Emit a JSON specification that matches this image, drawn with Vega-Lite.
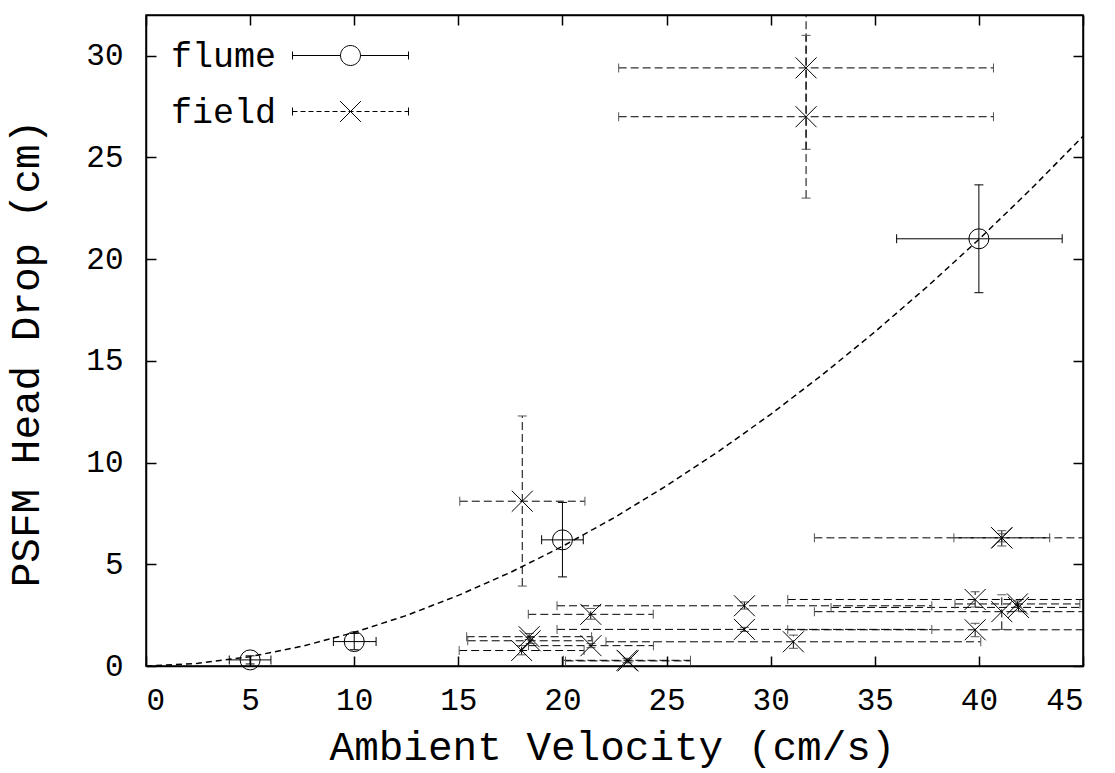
{
  "$schema": "https://vega.github.io/schema/vega-lite/v6.json",
  "width": 937,
  "height": 651,
  "autosize": {"type": "none"},
  "padding": {"left": 146, "top": 15, "right": 32, "bottom": 107},
  "background": "white",
  "config": {
    "font": "Liberation Mono",
    "view": {"stroke": "black", "strokeWidth": 1.5},
    "axis": {
      "grid": false,
      "domainColor": "black",
      "domainWidth": 1.5,
      "tickColor": "black",
      "tickWidth": 1.5,
      "tickSize": -10,
      "labelColor": "black",
      "titleColor": "black",
      "labelFont": "Liberation Mono",
      "titleFont": "Liberation Mono",
      "labelFontSize": 31,
      "titleFontSize": 41,
      "titleFontWeight": "normal",
      "labelFontWeight": "normal"
    }
  },
  "datasets": {
    "pts": [
      {"series": "flume", "v": 5.0, "h": 0.3, "vlo": 4.0, "vhi": 6.0, "hlo": 0.1, "hhi": 0.5},
      {"series": "flume", "v": 10.0, "h": 1.2, "vlo": 9.0, "vhi": 11.05, "hlo": 0.8, "hhi": 1.6},
      {"series": "flume", "v": 20.0, "h": 6.2, "vlo": 19.0, "vhi": 21.0, "hlo": 4.38, "hhi": 8.04},
      {"series": "flume", "v": 40.0, "h": 21.0, "vlo": 36.05, "vhi": 44.0, "hlo": 18.35, "hhi": 23.65},
      {"series": "field", "v": 31.7, "h": 29.4, "vlo": 22.7, "vhi": 40.7, "hlo": 25.4, "hhi": 33.4},
      {"series": "field", "v": 31.7, "h": 27.0, "vlo": 22.7, "vhi": 40.7, "hlo": 23.0, "hhi": 31.0},
      {"series": "field", "v": 18.07, "h": 8.1, "vlo": 15.07, "vhi": 21.08, "hlo": 3.93, "hhi": 12.29},
      {"series": "field", "v": 41.1, "h": 6.3, "vlo": 32.1, "vhi": 50.1, "hlo": 5.9, "hhi": 6.65},
      {"series": "field", "v": 41.1, "h": 6.3, "vlo": 38.8, "vhi": 43.4, "hlo": 6.1, "hhi": 6.5},
      {"series": "field", "v": 39.82, "h": 3.27, "vlo": 30.82, "vhi": 48.82, "hlo": 2.9, "hhi": 3.65},
      {"series": "field", "v": 28.74, "h": 2.96, "vlo": 19.74, "vhi": 37.74, "hlo": 2.8, "hhi": 3.15},
      {"series": "field", "v": 21.36, "h": 2.54, "vlo": 18.36, "vhi": 24.36, "hlo": 2.3, "hhi": 2.83},
      {"series": "field", "v": 41.1, "h": 2.67, "vlo": 32.1, "vhi": 50.1, "hlo": 1.8, "hhi": 3.5},
      {"series": "field", "v": 41.9, "h": 2.88, "vlo": 32.9, "vhi": 50.9, "hlo": 2.7, "hhi": 3.05},
      {"series": "field", "v": 41.85, "h": 3.05, "vlo": 38.85, "vhi": 44.85, "hlo": 2.9, "hhi": 3.2},
      {"series": "field", "v": 39.82, "h": 1.78, "vlo": 30.82, "vhi": 48.82, "hlo": 1.44, "hhi": 2.1},
      {"series": "field", "v": 28.74, "h": 1.8, "vlo": 19.74, "vhi": 37.74, "hlo": 1.7, "hhi": 1.9},
      {"series": "field", "v": 31.09, "h": 1.19, "vlo": 22.09, "vhi": 40.09, "hlo": 0.87, "hhi": 1.52},
      {"series": "field", "v": 21.37, "h": 1.0, "vlo": 18.37, "vhi": 24.37, "hlo": 0.9, "hhi": 1.1},
      {"series": "field", "v": 18.4, "h": 1.44, "vlo": 15.4, "vhi": 21.4, "hlo": 1.3, "hhi": 1.6},
      {"series": "field", "v": 18.45, "h": 1.24, "vlo": 15.45, "vhi": 21.45, "hlo": 1.1, "hhi": 1.4},
      {"series": "field", "v": 18.04, "h": 0.76, "vlo": 15.04, "vhi": 21.04, "hlo": 0.55, "hhi": 1.0},
      {"series": "field", "v": 23.15, "h": 0.25, "vlo": 20.15, "vhi": 26.15, "hlo": 0.15, "hhi": 0.35},
      {"series": "field", "v": 23.1, "h": 0.28, "vlo": 20.05, "vhi": 26.15, "hlo": 0.18, "hhi": 0.38}
    ],
    "fit": [
      {"v": 0, "h": 0}, {"v": 2.5, "h": 0.13}, {"v": 5, "h": 0.46}, {"v": 7.5, "h": 0.97},
      {"v": 10, "h": 1.65}, {"v": 12.5, "h": 2.48}, {"v": 15, "h": 3.47}, {"v": 17.5, "h": 4.6},
      {"v": 20, "h": 5.88}, {"v": 22.5, "h": 7.3}, {"v": 25, "h": 8.86}, {"v": 27.5, "h": 10.55},
      {"v": 30, "h": 12.37}, {"v": 32.5, "h": 14.33}, {"v": 35, "h": 16.42}, {"v": 37.5, "h": 18.63},
      {"v": 40, "h": 20.97}, {"v": 42.5, "h": 23.44}, {"v": 45, "h": 26.04}
    ]
  },
  "layer": [
    {
      "data": {"name": "fit"},
      "mark": {"type": "line", "color": "black", "strokeWidth": 1.5, "strokeDash": [6, 4], "clip": true},
      "encoding": {
        "x": {"field": "v", "type": "quantitative", "scale": {"domain": [0, 45], "nice": false},
              "axis": {"orient": "top", "labels": false, "title": null, "values": [0,5,10,15,20,25,30,35,40,45]}},
        "y": {"field": "h", "type": "quantitative", "scale": {"domain": [0, 32], "nice": false},
              "axis": {"orient": "right", "labels": false, "title": null, "values": [0,5,10,15,20,25,30]}}
      }
    },
    {
      "data": {"name": "pts"},
      "transform": [{"filter": "datum.series === 'flume'"}],
      "mark": {"type": "rule", "color": "black", "strokeWidth": 1, "clip": true},
      "encoding": {
        "x": {"field": "vlo", "type": "quantitative", "scale": {"domain": [0, 45], "nice": false}, "axis": null},
        "x2": {"field": "vhi"},
        "y": {"field": "h", "type": "quantitative", "scale": {"domain": [0, 32], "nice": false}, "axis": null}
      }
    },
    {
      "data": {"name": "pts"},
      "transform": [{"filter": "datum.series === 'flume'"}],
      "mark": {"type": "rule", "color": "black", "strokeWidth": 1, "clip": true},
      "encoding": {
        "x": {"field": "v", "type": "quantitative", "axis": null},
        "y": {"field": "hlo", "type": "quantitative", "axis": null},
        "y2": {"field": "hhi"}
      }
    },
    {
      "data": {"name": "pts"},
      "transform": [{"filter": "datum.series === 'flume'"}, {"fold": ["vlo", "vhi"], "as": ["end", "xe"]}],
      "mark": {"type": "tick", "orient": "vertical", "color": "black", "size": 9, "thickness": 1, "opacity": 1, "clip": true},
      "encoding": {
        "x": {"field": "xe", "type": "quantitative", "axis": null},
        "y": {"field": "h", "type": "quantitative", "axis": null}
      }
    },
    {
      "data": {"name": "pts"},
      "transform": [{"filter": "datum.series === 'flume'"}, {"fold": ["hlo", "hhi"], "as": ["end", "ye"]}],
      "mark": {"type": "tick", "orient": "horizontal", "color": "black", "size": 9, "thickness": 1, "opacity": 1, "clip": true},
      "encoding": {
        "x": {"field": "v", "type": "quantitative", "axis": null},
        "y": {"field": "ye", "type": "quantitative", "axis": null}
      }
    },
    {
      "data": {"name": "pts"},
      "transform": [{"filter": "datum.series === 'field'"}],
      "mark": {"type": "rule", "color": "black", "strokeWidth": 1, "strokeDash": [8, 4], "clip": true},
      "encoding": {
        "x": {"field": "vlo", "type": "quantitative", "axis": null},
        "x2": {"field": "vhi"},
        "y": {"field": "h", "type": "quantitative", "axis": null}
      }
    },
    {
      "data": {"name": "pts"},
      "transform": [{"filter": "datum.series === 'field'"}],
      "mark": {"type": "rule", "color": "black", "strokeWidth": 1, "strokeDash": [8, 4], "clip": true},
      "encoding": {
        "x": {"field": "v", "type": "quantitative", "axis": null},
        "y": {"field": "hlo", "type": "quantitative", "axis": null},
        "y2": {"field": "hhi"}
      }
    },
    {
      "data": {"name": "pts"},
      "transform": [{"filter": "datum.series === 'field'"}, {"fold": ["vlo", "vhi"], "as": ["end", "xe"]}],
      "mark": {"type": "tick", "orient": "vertical", "color": "#555555", "size": 9, "thickness": 1, "opacity": 1, "clip": true},
      "encoding": {
        "x": {"field": "xe", "type": "quantitative", "axis": null},
        "y": {"field": "h", "type": "quantitative", "axis": null}
      }
    },
    {
      "data": {"name": "pts"},
      "transform": [{"filter": "datum.series === 'field'"}, {"fold": ["hlo", "hhi"], "as": ["end", "ye"]}],
      "mark": {"type": "tick", "orient": "horizontal", "color": "#555555", "size": 9, "thickness": 1, "opacity": 1, "clip": true},
      "encoding": {
        "x": {"field": "v", "type": "quantitative", "axis": null},
        "y": {"field": "ye", "type": "quantitative", "axis": null}
      }
    },
    {
      "data": {"name": "pts"},
      "transform": [{"filter": "datum.series === 'flume'"}],
      "mark": {"type": "point", "shape": "circle", "filled": false, "color": "black", "strokeWidth": 1, "size": 400, "opacity": 1},
      "encoding": {
        "x": {"field": "v", "type": "quantitative", "axis": null},
        "y": {"field": "h", "type": "quantitative", "axis": null}
      }
    },
    {
      "data": {"name": "pts"},
      "transform": [{"filter": "datum.series === 'field'"}],
      "mark": {"type": "point", "shape": "M-1,-1L1,1M-1,1L1,-1", "filled": false, "color": "black", "strokeWidth": 1, "size": 441, "opacity": 1},
      "encoding": {
        "x": {"field": "v", "type": "quantitative", "axis": null},
        "y": {"field": "h", "type": "quantitative", "axis": null}
      }
    },
    {
      "data": {"name": "pts"},
      "mark": {"type": "point", "filled": false, "color": "black", "strokeWidth": 1, "size": 0, "opacity": 1},
      "encoding": {
        "x": {"field": "v", "type": "quantitative", "scale": {"domain": [0, 45], "nice": false},
              "axis": {"orient": "bottom", "title": "Ambient Velocity (cm/s)", "values": [0,5,10,15,20,25,30,35,40,45],
                       "labelPadding": 29, "labelDx": 10, "titleX": 466, "titleY": 81, "titleBaseline": "middle", "titleAnchor": "middle"}},
        "y": {"field": "h", "type": "quantitative", "scale": {"domain": [0, 32], "nice": false},
              "axis": {"orient": "left", "title": "PSFM Head Drop (cm)", "values": [0,5,10,15,20,25,30],
                       "labelPadding": 33, "labelDy": 2, "titleX": -120, "titleY": 338, "titleBaseline": "middle", "titleAngle": -90, "titleAnchor": "middle"}},
        "shape": {
          "field": "series", "type": "nominal",
          "scale": {"domain": ["flume", "field"], "range": [
            "M-2.9,-0.2V0.2M-2.9,0H-0.5M0.5,0H2.9M2.9,-0.2V0.2M-0.5,0A0.5,0.5 0 1,0 0.5,0A0.5,0.5 0 1,0 -0.5,0",
            "M-2.9,-0.2V0.2M2.9,-0.2V0.2M-2.9,0H-2.65M-2.5,0H-2.25M-2.1,0H-1.85M-1.7,0H-1.45M-1.3,0H-1.05M-0.9,0H-0.65M-0.5,0H-0.25M-0.1,0H0.15M0.3,0H0.55M0.7,0H0.95M1.1,0H1.35M1.5,0H1.75M1.9,0H2.15M2.3,0H2.55M2.7,0H2.9M-0.52,-0.52L0.52,0.52M-0.52,0.52L0.52,-0.52"
          ]},
          "legend": {
            "orient": "none", "legendX": 24, "legendY": 20, "title": null,
            "padding": 0, "rowPadding": 17,
            "symbolSize": 1600, "symbolOffset": 160, "labelOffset": -200,
            "symbolOpacity": 1,
            "labelFont": "Liberation Mono", "labelFontSize": 35, "labelColor": "black", "labelLimit": 0,
            "symbolStrokeColor": "black", "symbolFillColor": "transparent", "symbolStrokeWidth": 1
          }
        }
      }
    }
  ],
  "resolve": {"axis": {"x": "independent", "y": "independent"}}
}
